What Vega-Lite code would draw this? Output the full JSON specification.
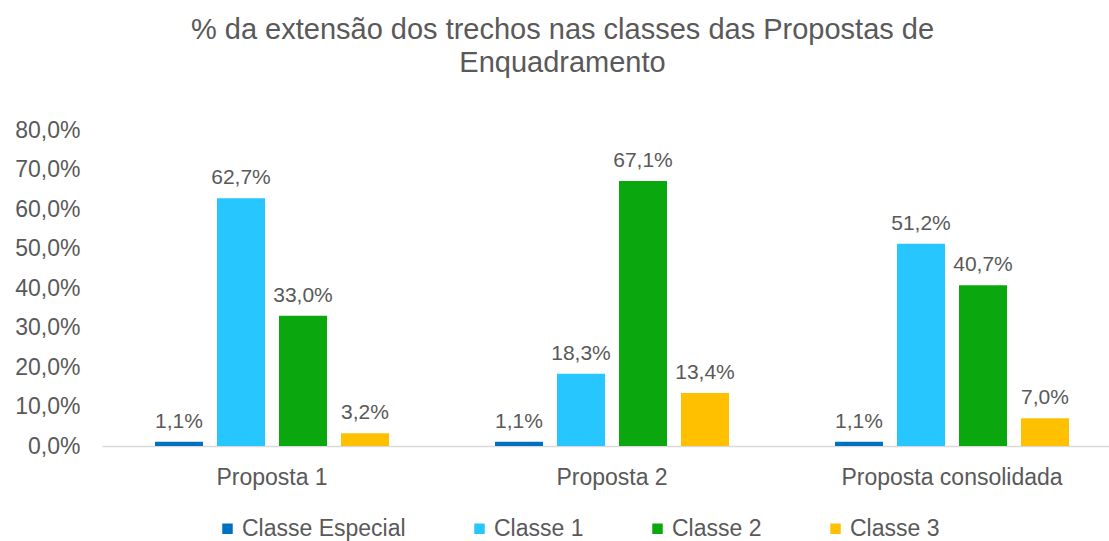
{
  "$schema": "https://vega.github.io/schema/vega-lite/v6.json",
  "autosize": {"type": "none"},
  "width": 1009,
  "height": 316,
  "padding": {"left": 100, "top": 130, "right": 0, "bottom": 95},
  "background": "white",
  "config": {
    "locale": {"number": {"decimal": ",", "thousands": ".", "grouping": [3], "currency": ["R$", ""]}},
    "font": "Liberation Sans",
    "view": {"stroke": null}
  },
  "title": {
    "text": ["% da extensão dos trechos nas classes das Propostas de", "Enquadramento"],
    "fontSize": 29,
    "fontWeight": "normal",
    "color": "#595959",
    "font": "Liberation Sans",
    "anchor": "middle",
    "dx": -42,
    "offset": 41,
    "lineHeight": 33,
    "limit": 0
  },
  "data": {
    "values": [
      {"proposta": "Proposta 1", "classe": "Classe Especial", "valor": 0.011},
      {"proposta": "Proposta 1", "classe": "Classe 1", "valor": 0.627},
      {"proposta": "Proposta 1", "classe": "Classe 2", "valor": 0.330},
      {"proposta": "Proposta 1", "classe": "Classe 3", "valor": 0.032},
      {"proposta": "Proposta 2", "classe": "Classe Especial", "valor": 0.011},
      {"proposta": "Proposta 2", "classe": "Classe 1", "valor": 0.183},
      {"proposta": "Proposta 2", "classe": "Classe 2", "valor": 0.671},
      {"proposta": "Proposta 2", "classe": "Classe 3", "valor": 0.134},
      {"proposta": "Proposta consolidada", "classe": "Classe Especial", "valor": 0.011},
      {"proposta": "Proposta consolidada", "classe": "Classe 1", "valor": 0.512},
      {"proposta": "Proposta consolidada", "classe": "Classe 2", "valor": 0.407},
      {"proposta": "Proposta consolidada", "classe": "Classe 3", "valor": 0.070}
    ]
  },
  "encoding": {
    "x": {
      "field": "proposta",
      "type": "nominal",
      "sort": null,
      "scale": {"range": [2, 1022], "paddingInner": 0, "paddingOuter": 0},
      "axis": {
        "title": null,
        "labelAngle": 0,
        "labelFontSize": 23,
        "labelColor": "#595959",
        "labelPadding": 20,
        "labelLimit": 0,
        "ticks": false,
        "domainColor": "#d9d9d9",
        "domainWidth": 1.5
      }
    },
    "xOffset": {
      "field": "classe",
      "type": "nominal",
      "sort": ["Classe Especial", "Classe 1", "Classe 2", "Classe 3"],
      "scale": {"paddingInner": 0.226, "paddingOuter": 0.855}
    },
    "y": {
      "field": "valor",
      "type": "quantitative",
      "scale": {"domain": [0, 0.8]},
      "axis": {
        "title": null,
        "format": ".1%",
        "values": [0, 0.1, 0.2, 0.3, 0.4, 0.5, 0.6, 0.7, 0.8],
        "labelOverlap": false,
        "labelFontSize": 23,
        "labelColor": "#595959",
        "labelPadding": 20,
        "ticks": false,
        "domain": false,
        "grid": false
      }
    }
  },
  "layer": [
    {
      "mark": {"type": "bar"},
      "encoding": {
        "color": {
          "field": "classe",
          "type": "nominal",
          "sort": ["Classe Especial", "Classe 1", "Classe 2", "Classe 3"],
          "scale": {
            "domain": ["Classe Especial", "Classe 1", "Classe 2", "Classe 3"],
            "range": ["#0070C0", "#27C6FF", "#0AA70F", "#FFC000"]
          },
          "legend": {
            "title": null,
            "orient": "none",
            "direction": "horizontal",
            "legendX": 116,
            "legendY": 387,
            "symbolType": "square",
            "symbolSize": 110,
            "symbolStrokeWidth": 0,
            "labelFontSize": 23,
            "labelColor": "#595959",
            "labelOffset": 3,
            "labelLimit": 0,
            "columnPadding": 62
          }
        }
      }
    },
    {
      "mark": {"type": "text", "baseline": "alphabetic", "dy": -14, "fontSize": 21, "color": "#595959"},
      "encoding": {
        "text": {"field": "valor", "type": "quantitative", "format": ".1%"}
      }
    }
  ]
}
